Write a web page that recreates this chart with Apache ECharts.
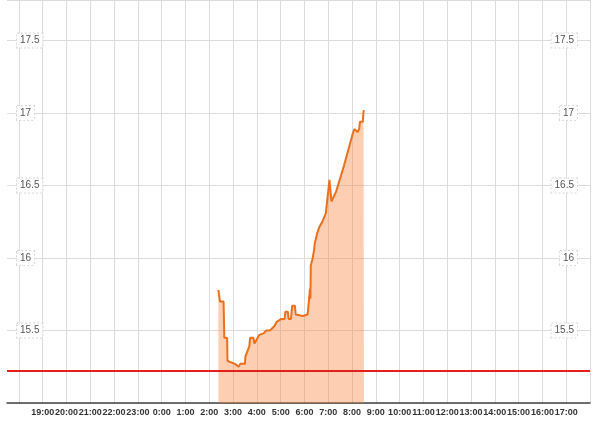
<!DOCTYPE html>
<html>
<head>
<meta charset="utf-8">
<script src="https://cdn.jsdelivr.net/npm/echarts@6/dist/echarts.min.js"></script>
<style>
html,body{margin:0;padding:0;background:#fff;}
#chart{width:602px;height:421px;}
</style>
</head>
<body>
<div id="chart"></div>
<script>
// Times on the second day (HH:MM) and the values
var times = ["2:23","2:27","2:36","2:38","2:45","2:46","3:05","3:14","3:18","3:30","3:31","3:41","3:43","3:51","3:54","3:59","4:06","4:17","4:23","4:33","4:44","4:50","5:02","5:10","5:12","5:18","5:20","5:26","5:29","5:36","5:38","5:56","6:08","6:13","6:14","6:15","6:16","6:20","6:24","6:26","6:32","6:37","6:45","6:54","7:03","7:05","7:06","7:08","7:10","7:20","7:40","8:00","8:02","8:06","8:10","8:14","8:18","8:20","8:27","8:29","8:30"];
var values = [15.78,15.70,15.70,15.45,15.45,15.29,15.27,15.25,15.27,15.27,15.32,15.39,15.45,15.45,15.41,15.41,15.47,15.48,15.50,15.50,15.53,15.56,15.58,15.58,15.63,15.63,15.58,15.58,15.67,15.67,15.61,15.60,15.61,15.62,15.79,15.72,15.95,15.99,16.05,16.10,16.17,16.21,16.25,16.31,16.54,16.55,16.45,16.39,16.40,16.46,16.64,16.84,16.86,16.89,16.88,16.87,16.89,16.94,16.94,17.01,17.02];
var refLevel = 15.22;
var yTicks = [15.5, 16, 16.5, 17, 17.5];

function ts(day, hhmm) {
  var p = hhmm.split(':');
  return Date.UTC(2024, 0, day, +p[0], +p[1]);
}
var seriesData = times.map(function (t, i) { return [ts(2, t), values[i]]; });

function yLabel(v) {
  for (var i = 0; i < yTicks.length; i++) {
    if (Math.abs(yTicks[i] - v) < 1e-6) return String(yTicks[i]);
  }
  return '';
}
var yLabelStyle = {
  inside: true,
  showMinLabel: false,
  showMaxLabel: false,
  formatter: yLabel,
  color: '#555',
  fontSize: 10,
  fontFamily: 'Liberation Sans, Arial, sans-serif',
  backgroundColor: '#fff',
  borderColor: '#d8d8d8',
  borderWidth: 1,
  borderType: 'dotted',
  padding: [2, 3, 2, 3]
};

var chart = echarts.init(document.getElementById('chart'), null, {renderer: 'canvas'});
chart.setOption({
  useUTC: true,
  animation: false,
  backgroundColor: '#fff',
  grid: {left: 7, right: 12, top: 0, bottom: 18, containLabel: false},
  xAxis: {
    type: 'time',
    min: ts(1, '17:30'),
    max: ts(2, '18:00'),
    minInterval: 3600000,
    maxInterval: 3600000,
    axisLine: {show: true, lineStyle: {color: '#444', width: 1.5}},
    axisTick: {show: false},
    splitLine: {show: true, showMinLine: false, showMaxLine: false, lineStyle: {color: '#dcdcdc', width: 1}},
    axisLabel: {
      margin: 5,
      hideOverlap: false,
      color: '#333',
      fontSize: 9,
      fontWeight: 'bold',
      fontFamily: 'Liberation Sans, Arial, sans-serif',
      formatter: function (value) {
        var d = new Date(value);
        var h = d.getUTCHours(), m = d.getUTCMinutes();
        if (m !== 0 || h === 18) return '';
        return h + ':00';
      }
    }
  },
  yAxis: [{
    type: 'value',
    position: 'left',
    min: 15,
    max: 17.78,
    interval: 0.5,
    axisLine: {show: false},
    axisTick: {show: false},
    splitLine: {show: true, lineStyle: {color: '#dcdcdc', width: 1}},
    axisLabel: Object.assign({margin: 10}, yLabelStyle)
  }, {
    type: 'value',
    position: 'right',
    min: 15,
    max: 17.78,
    interval: 0.5,
    axisLine: {show: false},
    axisTick: {show: false},
    splitLine: {show: false},
    axisLabel: Object.assign({margin: 13}, yLabelStyle)
  }],
  series: [{
    type: 'line',
    data: seriesData,
    showSymbol: false,
    symbol: 'none',
    lineStyle: {color: '#e8701e', width: 2},
    areaStyle: {color: 'rgba(250,128,55,0.55)'},
    z: 3,
    markLine: {
      silent: true,
      symbol: ['none', 'none'],
      label: {show: false},
      lineStyle: {color: '#e3211c', width: 2, type: 'solid'},
      data: [{yAxis: refLevel}]
    }
  }]
});
</script>
</body>
</html>
